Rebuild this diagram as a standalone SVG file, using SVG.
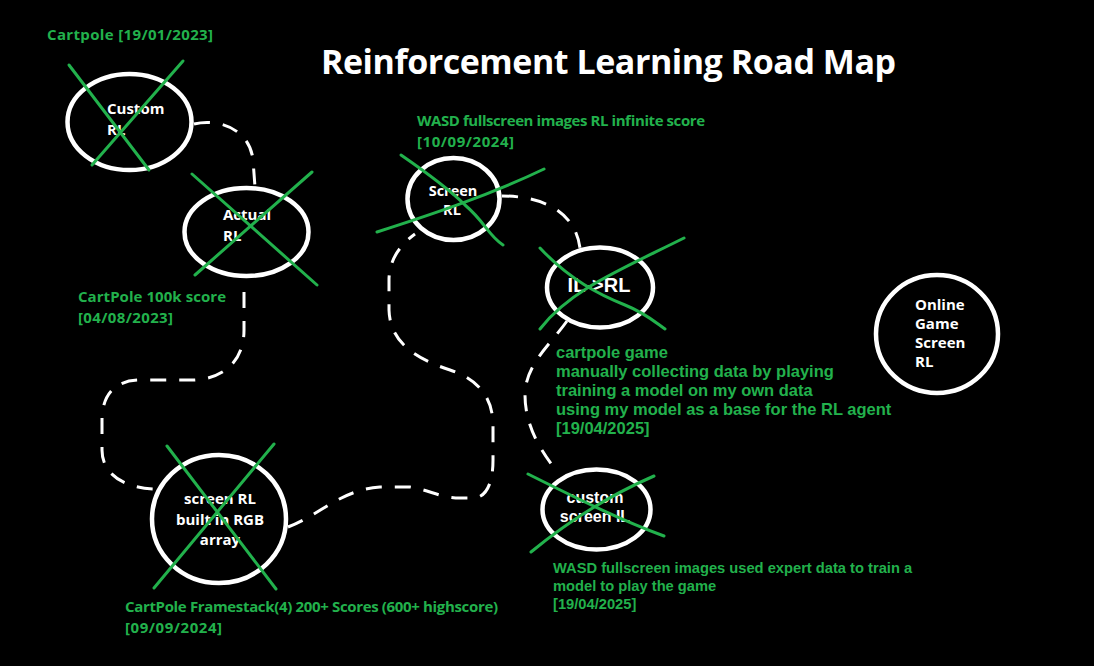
<svg xmlns="http://www.w3.org/2000/svg" width="1094" height="666" viewBox="0 0 1094 666">
<style>
.seg{font-family:"Open Sans","Noto Sans","DejaVu Sans",sans-serif;font-weight:700}
.ari{font-family:"Liberation Sans",Arial,sans-serif;font-weight:700}
.w{fill:#ffffff}
.g{fill:#22b14c}
.node{fill:none;stroke:#ffffff;stroke-width:4.5}
.x{fill:none;stroke:#22b14c;stroke-width:3;stroke-linecap:round}
.dash{fill:none;stroke:#ffffff;stroke-width:3;stroke-dasharray:16 13}
</style>
<rect x="0" y="0" width="1094" height="666" fill="#000000"/>
<text class="seg w" x="321" y="74" font-size="34" textLength="575">Reinforcement Learning Road Map</text>

<g id="connectors">
<path class="dash" d="M194,124 C220,118 250,130 253,160 L255,187"/>
<path class="dash" d="M244,292 L244,330 C244,360 225,378 195,380 L140,380 C115,380 102,395 102,420 L102,450 C102,475 125,488 155,489"/>
<path class="dash" d="M288,527 C320,515 340,490 380,487 L410,487 C430,490 440,498 460,498 L475,498 C488,496 493,480 493,460 L493,425 C493,395 475,378 450,370 C420,360 390,345 389,310 L389,280 C389,260 400,245 415,234"/>
<path class="dash" d="M502,196 C540,196 575,210 580,248"/>
<path class="dash" d="M567,321 C550,345 525,365 525,395 C525,425 540,450 556,470"/>
</g>

<g id="node-custom-rl">
<ellipse class="node" cx="129.5" cy="122" rx="62" ry="48"/>
<text class="seg w" x="107" y="114" font-size="15">Custom</text>
<text class="seg w" x="107" y="135" font-size="15">RL</text>
<path class="x" d="M69,65 L149,170 M92,165 L183,61"/>
<text class="seg g" x="47" y="40" font-size="15" textLength="166">Cartpole [19/01/2023]</text>
</g>

<g id="node-actual-rl">
<ellipse class="node" cx="246.5" cy="232" rx="62" ry="44"/>
<text class="seg w" x="223" y="220" font-size="15">Actual</text>
<text class="seg w" x="223" y="241" font-size="15">RL</text>
<path class="x" d="M192,174 L317,285 M195,275 L312,172"/>
<text class="seg g" x="78" y="302" font-size="15" textLength="148">CartPole 100k score</text>
<text class="seg g" x="78" y="323" font-size="15" textLength="95">[04/08/2023]</text>
</g>

<g id="node-screen-rl-rgb">
<ellipse class="node" cx="219" cy="519" rx="67" ry="64"/>
<text class="seg w" x="220" y="504" font-size="15" text-anchor="middle">screen RL</text>
<text class="seg w" x="220" y="525" font-size="15" text-anchor="middle">built in RGB</text>
<text class="seg w" x="220" y="545" font-size="15" text-anchor="middle">array</text>
<path class="x" d="M167,446 L276,589 M154,588 L274,444"/>
<text class="seg g" x="125" y="612" font-size="15" textLength="373">CartPole Framestack(4) 200+ Scores (600+ highscore)</text>
<text class="seg g" x="125" y="633" font-size="15" textLength="97">[09/09/2024]</text>
</g>

<g id="node-screen-rl">
<ellipse class="node" cx="453.5" cy="199" rx="46" ry="41"/>
<text class="seg w" x="453" y="196" font-size="14.5" text-anchor="middle">Screen</text>
<text class="seg w" x="452" y="215" font-size="14.5" text-anchor="middle">RL</text>
<path class="x" d="M401,155 C430,175 450,190 465,205 C485,222 488,235 503,245 M377,232 C430,215 490,195 544,169"/>
<text class="seg g" x="417" y="126" font-size="15" textLength="288">WASD fullscreen images RL infinite score</text>
<text class="seg g" x="417" y="147" font-size="15" textLength="97">[10/09/2024]</text>
</g>

<g id="node-il-rl">
<ellipse class="node" cx="600" cy="287.5" rx="53" ry="40"/>
<text class="ari w" x="599" y="292" font-size="20" text-anchor="middle">IL-&gt;RL</text>
<path class="x" d="M540,248 C570,280 600,295 625,305 C645,313 655,322 665,329 M540,329 C570,290 620,270 684,238"/>
<text class="ari g" x="556" y="358" font-size="16.5">cartpole game</text>
<text class="ari g" x="556" y="377" font-size="16.5">manually collecting data by playing</text>
<text class="ari g" x="556" y="396" font-size="16.5">training a model on my own data</text>
<text class="ari g" x="556" y="415" font-size="16.5">using my model as a base for the RL agent</text>
<text class="ari g" x="556" y="434" font-size="16.5">[19/04/2025]</text>
</g>

<g id="node-custom-screen-il">
<ellipse class="node" cx="596.5" cy="509.5" rx="54" ry="40"/>
<text class="ari w" x="595" y="503" font-size="16" text-anchor="middle">custom</text>
<text class="ari w" x="595" y="522" font-size="16" text-anchor="middle">screen IL</text>
<path class="x" d="M528,474 C570,495 620,520 664,536 M531,552 C570,520 610,495 654,476"/>
<text class="ari g" x="553" y="573" font-size="14.7">WASD fullscreen images used expert data to train a</text>
<text class="ari g" x="553" y="591" font-size="14.7">model to play the game</text>
<text class="ari g" x="553" y="609" font-size="14.7">[19/04/2025]</text>
</g>

<g id="node-online-game-screen-rl">
<ellipse class="node" cx="937" cy="334" rx="61" ry="59"/>
<text class="seg w" x="915" y="310" font-size="15">Online</text>
<text class="seg w" x="915" y="329" font-size="15">Game</text>
<text class="seg w" x="915" y="348" font-size="15">Screen</text>
<text class="seg w" x="915" y="367" font-size="15">RL</text>
</g>
</svg>
